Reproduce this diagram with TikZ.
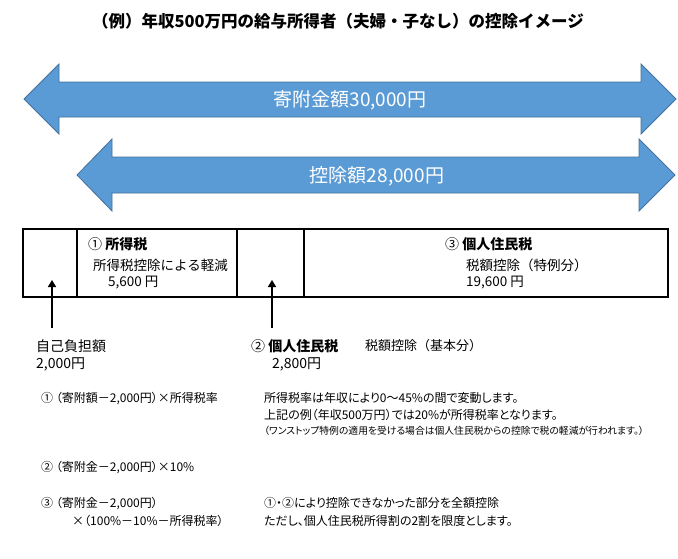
\documentclass[tikz,border=0pt]{standalone}
\usepackage{fontspec}
\setmainfont{Noto Sans CJK JP}
\newfontfamily\jp{Noto Sans CJK JP}
\newfontfamily\jpp{Noto Sans CJK JP}[RawFeature=+palt]
\usetikzlibrary{arrows.meta}
\definecolor{arrowfill}{HTML}{5B9BD5}
\definecolor{arrowline}{HTML}{41719C}
\begin{document}
\begin{tikzpicture}[x=1pt,y=-1pt,
  bigarrow/.style={fill=arrowfill, draw=arrowline, line width=0.8pt, line join=miter},
  arrowtext/.style={text=white, font=\jp\fontsize{19}{19}\selectfont, inner sep=0pt},
  cell/.style={draw=black, line width=1.2pt, minimum height=68pt, inner sep=0pt, outer sep=0pt, anchor=north west},
  lbl/.style={anchor=west, inner sep=0pt, font=\jp\fontsize{13.5}{14}\selectfont},
  lblb/.style={anchor=west, inner sep=0pt, font=\jp\bfseries\fontsize{14}{15}\selectfont},
  body/.style={anchor=west, inner sep=0pt, font=\jpp\fontsize{12}{13}\selectfont},
  small/.style={anchor=west, inner sep=0pt, font=\jpp\fontsize{9.8}{10}\selectfont},
  uparrow/.style={line width=1.5pt, -{Triangle[length=7pt,width=8pt]}}
]
\useasboundingbox (0,0) rectangle (678,558);

% title
\node[inner sep=0pt, font=\jp\bfseries\fontsize{16.5}{17}\selectfont] (title) at (338,21) {（例）年収500万円の給与所得者（夫婦・子なし）の控除イメージ};

% big arrows
\draw[bigarrow] (24,99) -- (59,64) -- (59,82) -- (641,82) -- (641,64) -- (676,99) -- (641,134) -- (641,117) -- (59,117) -- (59,134) -- cycle;
\node[arrowtext] (kifu) at (350,100) {寄附金額30,000円};
\draw[bigarrow] (77,175) -- (112,139) -- (112,157) -- (639,157) -- (639,139) -- (675,175) -- (639,211) -- (639,193) -- (112,193) -- (112,211) -- cycle;
\node[arrowtext] (kojo) at (377,176) {控除額28,000円};

% table
\node[cell, minimum width=54pt] (c1) at (23,229) {};
\node[cell, minimum width=160pt] (c2) at (77,229) {};
\node[cell, minimum width=67pt] (c3) at (237,229) {};
\node[cell, minimum width=364pt] (c4) at (304,229) {};

\node[lblb] (t1) at (88,244) {{\mdseries ①} 所得税};
\node[lbl] (t1b) at (93,265) {所得税控除による軽減};
\node[lbl] (t1c) at (108,283) {5,600 円};
\node[lblb] (t3) at (445,244) {{\mdseries ③} 個人住民税};
\node[lbl] (t3b) at (466,265) {税額控除（特例分）};
\node[lbl] (t3c) at (466,283) {19,600 円};

% pointers
\coordinate (p1s) at (52,328);
\coordinate (p1e) at (52,280);
\coordinate (p2s) at (272,328);
\coordinate (p2e) at (272,280);
\draw[uparrow] (p1s) -- (p1e);
\draw[uparrow] (p2s) -- (p2e);

\node[lbl, font=\jp\fontsize{14}{15}\selectfont] (jiko) at (36,346) {自己負担額};
\node[lbl, font=\jp\fontsize{14}{15}\selectfont] (jikob) at (36,364) {2,000円};
\node[lblb] (t2) at (251,346) {{\mdseries ②} 個人住民税};
\node[lbl, font=\jp\fontsize{13}{14}\selectfont] (t2x) at (365,346) {税額控除（基本分）};
\node[lbl, font=\jp\fontsize{14}{15}\selectfont] (t2b) at (272,364) {2,800円};

% explanations
\node[body] (b1) at (41,398) {① （寄附額－2,000円）×所得税率};
\node[body] (r1) at (264,398) {所得税率は年収により0～45\%の間で変動します。};
\node[body] (r2) at (264,415) {上記の例（年収500万円）では20\%が所得税率となります。};
\node[small] (r3) at (264,431) {（ワンストップ特例の適用を受ける場合は個人住民税からの控除で税の軽減が行われます。）};
\node[body] (b2) at (41,467) {② （寄附金－2,000円）×10\%};
\node[body] (b3) at (41,503) {③ （寄附金－2,000円）};
\node[body] (b3b) at (72,521) {×（100\%－10\%－所得税率）};
\node[body] (r4) at (264,503) {①・②により控除できなかった部分を全額控除};
\node[body] (r5) at (264,521) {ただし、個人住民税所得割の2割を限度とします。};
\end{tikzpicture}
\end{document}
